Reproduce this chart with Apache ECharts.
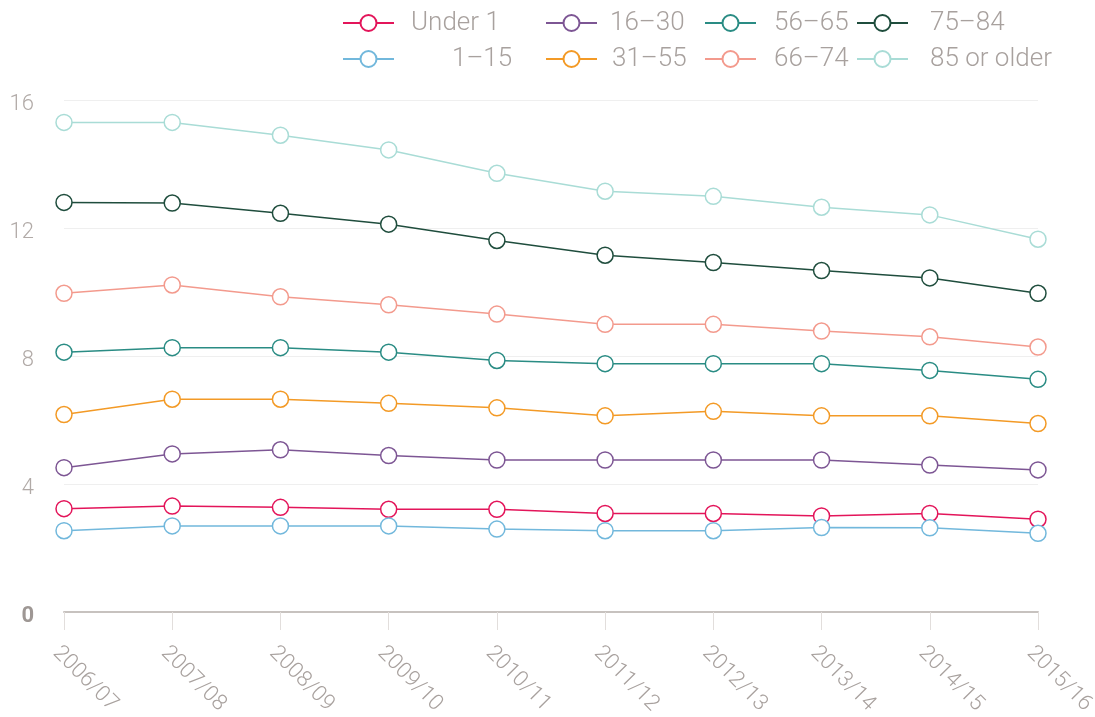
<!DOCTYPE html>
<html>
<head>
<meta charset="utf-8">
<title>Rates by age group</title>
<script src="https://cdn.jsdelivr.net/npm/echarts@6/dist/echarts.min.js"></script>
<style>
  html, body { margin: 0; padding: 0; background: #ffffff; }
  #chart { width: 1095px; height: 717px; }
</style>
</head>
<body>
<div id="chart"></div>
<script>
// Financial years along the x axis
const years = ['2006/07', '2007/08', '2008/09', '2009/10', '2010/11',
               '2011/12', '2012/13', '2013/14', '2014/15', '2015/16'];

// Age groups, their colours and values
const groupNames = ['Under 1', '1–15', '16–30', '31–55', '56–65', '66–74', '75–84', '85 or older'];
const groupColors = ['#e3155a', '#72b8dc', '#7d5694', '#f39a26', '#2a8c84', '#f39a8d', '#1f4d3d', '#a9dcd6'];

const under1   = [3.23, 3.31, 3.27, 3.21, 3.21, 3.08, 3.08, 3.00, 3.08, 2.90];
const age1to15 = [2.54, 2.69, 2.69, 2.69, 2.59, 2.54, 2.54, 2.64, 2.63, 2.46];
const age16to30 = [4.51, 4.94, 5.07, 4.89, 4.75, 4.75, 4.75, 4.75, 4.59, 4.44];
const age31to55 = [6.17, 6.65, 6.65, 6.52, 6.38, 6.13, 6.27, 6.13, 6.13, 5.89];
const age56to65 = [8.12, 8.26, 8.26, 8.12, 7.86, 7.76, 7.76, 7.76, 7.55, 7.27];
const age66to74 = [9.96, 10.22, 9.85, 9.60, 9.31, 8.99, 8.99, 8.78, 8.60, 8.28];
const age75to84 = [12.80, 12.78, 12.46, 12.12, 11.61, 11.15, 10.92, 10.67, 10.44, 9.96];
const age85plus = [15.30, 15.30, 14.90, 14.44, 13.71, 13.15, 12.99, 12.65, 12.41, 11.65];

const groupValues = [under1, age1to15, age16to30, age31to55, age56to65, age66to74, age75to84, age85plus];

// Y axis tick range
const yMin = 0, yMax = 16, yStep = 4;

const labelGrey = '#a8a19e';
const fontStack = 'Roboto, "Liberation Sans", sans-serif';

const series = groupNames.map((name, i) => ({
  name: name,
  type: 'line',
  data: groupValues[i],
  symbol: 'circle',
  symbolSize: 16,
  showAllSymbol: true,
  lineStyle: { color: groupColors[i], width: 1.5 },
  itemStyle: { color: '#ffffff', borderColor: groupColors[i], borderWidth: 1.5 },
  emphasis: { disabled: true },
  z: 2 + i
}));

// One legend per column, two entries each, with per-entry text offsets
function legendColumn(left, names, pads) {
  const txt = { color: labelGrey, fontFamily: fontStack, fontWeight: 300, fontSize: 26 };
  return {
    left: left,
    top: 10,
    padding: 0,
    orient: 'vertical',
    itemWidth: 51,
    itemHeight: 20,
    itemGap: 10,
    data: names,
    formatter: function (n) {
      return '{t' + names.indexOf(n) + '|' + n + '}';
    },
    textStyle: Object.assign({
      lineHeight: 24,
      rich: {
        t0: Object.assign({ padding: [0, 0, 0, pads[0]] }, txt),
        t1: Object.assign({ padding: [0, 0, 0, pads[1]] }, txt)
      }
    }, txt)
  };
}

const option = {
  animation: false,
  backgroundColor: '#ffffff',
  legend: [
    legendColumn(342, ['Under 1', '1–15'], [12, 53]),
    legendColumn(545, ['16–30', '31–55'], [8, 10]),
    legendColumn(704, ['56–65', '66–74'], [13, 13]),
    legendColumn(856, ['75–84', '85 or older'], [17, 17])
  ],
  grid: { left: 64, right: 57, top: 100, bottom: 105, containLabel: false, outerBoundsMode: 'none' },
  xAxis: {
    type: 'category',
    data: years,
    boundaryGap: false,
    axisLine: { show: true, lineStyle: { color: '#c7c2bf', width: 2 } },
    axisTick: { show: true, alignWithLabel: true, length: 18, lineStyle: { color: '#e2dedc', width: 1 } },
    axisLabel: {
      rotate: -45,
      margin: 30,
      verticalAlign: 'top',
      color: labelGrey,
      fontFamily: fontStack,
      fontWeight: 300,
      fontSize: 22,
      interval: 0
    },
    splitLine: { show: false }
  },
  yAxis: {
    type: 'value',
    min: yMin,
    max: yMax,
    interval: yStep,
    axisLine: { show: false },
    axisTick: { show: false },
    axisLabel: {
      margin: 30,
      color: '#b1aaa7',
      fontFamily: fontStack,
      fontWeight: 300,
      fontSize: 22,
      padding: [9, 0, 0, 0],
      formatter: function (v) { return v === 0 ? '{z|0}' : String(v); },
      rich: {
        z: { color: '#9e9794', fontFamily: fontStack, fontWeight: 'bold', fontSize: 22 }
      }
    },
    splitLine: { show: true, lineStyle: { color: '#efefef', width: 1 } }
  },
  series: series
};

const chart = echarts.init(document.getElementById('chart'), null, { renderer: 'canvas' });
chart.setOption(option);
</script>
</body>
</html>
